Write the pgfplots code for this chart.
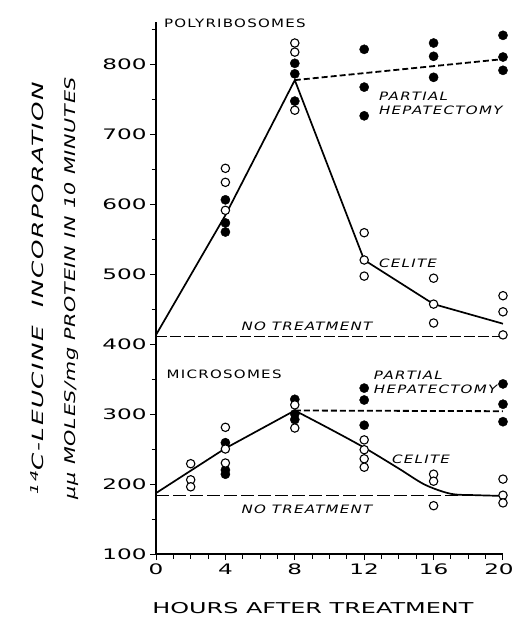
\documentclass[border=0pt]{standalone}
\usepackage{fontspec}
\setmainfont{DejaVu Sans}
\usepackage{pgfplots}
\pgfplotsset{compat=1.18}
\newfontfamily\tf[FakeStretch=1.6]{DejaVu Sans}
\newfontfamily\lf[FakeStretch=1.3,LetterSpace=11]{DejaVu Sans}
\newfontfamily\lfi[FakeStretch=1.3,LetterSpace=11]{DejaVu Sans Oblique}
\newfontfamily\ya[FakeStretch=1.6,LetterSpace=10]{DejaVu Sans Oblique}
\newfontfamily\yb[FakeStretch=1.4,LetterSpace=5]{DejaVu Sans Oblique}
\begin{document}
\begin{tikzpicture}
\begin{axis}[
 scale only axis, width=347bp, height=532bp,
 xmin=0, xmax=20, ymin=100, ymax=860,
 axis x line*=bottom, axis y line*=left,
 axis line style={line width=1.5bp},
 xtick={0,4,8,12,16},
 extra x ticks={20},
 extra x tick style={xticklabel style={xshift=-4bp}},
 minor xtick={1,2,3,5,6,7,9,10,11,13,14,15,17,18,19},
 ytick={100,200,300,400,500,600,700,800},
 minor ytick={150,250,350,450,550,650,750,850},
 tick align=outside, major tick length=6bp, minor tick length=4.5bp,
 tick style={line width=1bp, black},
 /pgf/number format/assume math mode=true,
 ticklabel style={font=\fontsize{14.5}{16}\selectfont\tf},
 clip=false,
]
% polyribosomes lines
\addplot[line width=1.7bp] coordinates {(0,413)(4,584)(8,777)(12,520)(16,457)(20,429)};
\addplot[line width=1.8bp, dash pattern=on 6bp off 3bp] coordinates {(8,777)(20,807)};
\addplot[line width=0.9bp, dash pattern=on 11bp off 3bp] coordinates {(0,411)(20,411)};
% microsomes lines
\addplot[line width=1.7bp] coordinates {(0,187)(4,251)(8,305)};
\addplot[line width=1.7bp, smooth, tension=0.5] coordinates {(8,305)(10,279)(12,252)(14,222)(15.5,199)(17,186)(18.5,184)(20,183)};
\addplot[line width=1.8bp, dash pattern=on 6bp off 3bp] coordinates {(8,305)(20,304)};
\addplot[line width=0.9bp, dash pattern=on 13bp off 4bp] coordinates {(0,183)(20,183)};
% filled marks
\addplot[only marks, mark=*, mark size=4.6bp, mark options={fill=black,draw=black}] coordinates {
 (4,606)(4,573)(4,560)
 (8,801)(8,786)(8,747)
 (12,821)(12,767)(12,726)
 (16,830)(16,811)(16,781)
 (20,841)(20,810)(20,791)
 (4,259)(4,220)(4,214)
 (8,321)(8,300)(8,292)
 (12,337)(12,320)(12,284)
 (20,343)(20,314)(20,289)
};
% open marks
\addplot[only marks, mark=*, mark size=4.2bp, mark options={fill=white,draw=black,line width=1.1bp}] coordinates {
 (4,651)(4,631)(4,591)
 (8,830)(8,817)(8,734)
 (12,559)(12,520)(12,497)
 (16,494)(16,457)(16,430)
 (20,469)(20,446)(20,413)
 (2,229)(2,206)(2,196)
 (4,281)(4,250)(4,230)
 (8,313)(8,280)
 (12,263)(12,249)(12,236)(12,224)
 (16,214)(16,204)(16,169)
 (20,207)(20,184)(20,173)
};
% in-plot labels
\node[anchor=west,inner sep=0,font=\fontsize{11.6}{12}\selectfont\lf] at (axis cs:0.45,858) {POLYRIBOSOMES};
\node[anchor=west,inner sep=0,font=\fontsize{11.6}{12}\selectfont\lf] at (axis cs:0.6,357) {MICROSOMES};
\node[inner sep=0,font=\fontsize{11.6}{12}\selectfont\lfi] at (axis cs:8.7,426) {NO TREATMENT};
\node[inner sep=0,font=\fontsize{11.6}{12}\selectfont\lfi] at (axis cs:8.7,164) {NO TREATMENT};
\node[anchor=west,inner sep=0,font=\fontsize{11.6}{12}\selectfont\lfi] at (axis cs:12.85,516) {CELITE};
\node[anchor=west,inner sep=0,font=\fontsize{11.6}{12}\selectfont\lfi] at (axis cs:13.6,236) {CELITE};
\node[anchor=west,inner sep=0,font=\fontsize{11.6}{12}\selectfont\lfi] at (axis cs:12.85,754) {PARTIAL};
\node[anchor=west,inner sep=0,font=\fontsize{11.6}{12}\selectfont\lfi] at (axis cs:12.85,734) {HEPATECTOMY};
\node[anchor=west,inner sep=0,font=\fontsize{11.6}{12}\selectfont\lfi] at (axis cs:12.55,355) {PARTIAL};
\node[anchor=west,inner sep=0,font=\fontsize{11.6}{12}\selectfont\lfi] at (axis cs:12.55,335) {HEPATECTOMY};
% axis labels
\node[rotate=90,inner sep=0,font=\fontsize{15.5}{16}\selectfont\ya] at (rel axis cs:-0.343,0.5) {\textsuperscript{14}C-LEUCINE\ \ INCORPORATION};
\node[rotate=90,inner sep=0,font=\fontsize{14.8}{16}\selectfont\yb] at (rel axis cs:-0.242,0.5) {μμ MOLES/mg PROTEIN IN 10 MINUTES};
\node[inner sep=0,font=\fontsize{15}{16}\selectfont\tf] at (rel axis cs:0.452,-0.1015) {HOURS AFTER TREATMENT};
\coordinate (bbsw) at (rel axis cs:-0.4496,-0.1391);
\coordinate (bbne) at (rel axis cs:1.0375,1.0414);
\end{axis}
\pgfresetboundingbox
\path[use as bounding box] (bbsw) rectangle (bbne);
\end{tikzpicture}
\end{document}
